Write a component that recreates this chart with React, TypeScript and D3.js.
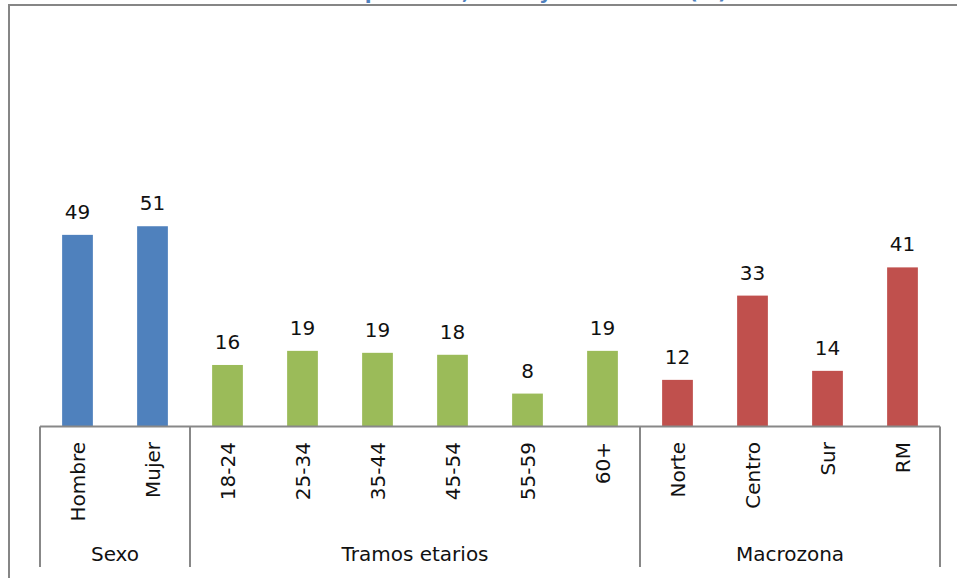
import { useEffect, useRef } from "react";
import * as d3 from "d3";

const categories = [
  "Hombre",
  "Mujer",
  "18-24",
  "25-34",
  "35-44",
  "45-54",
  "55-59",
  "60+",
  "Norte",
  "Centro",
  "Sur",
  "RM",
];
const values = [48.9, 51.1, 15.7, 19.3, 18.8, 18.3, 8.4, 19.3, 11.9, 33.4, 14.2, 40.6];
const groups = ["Sexo", "Tramos etarios", "Macrozona"];
const groupSizes = [2, 6, 4];
const groupColors = ["#4F81BD", "#9BBB59", "#C0504D"];
const title = "Distribución por sexo, edad y macrozona (%)";

const font = "'DejaVu Sans', sans-serif";

export default function App() {
  const ref = useRef<SVGSVGElement | null>(null);

  useEffect(() => {
    const width = 957;
    const height = 578;
    const margin = { left: 40, right: 17, baseline: 426.5 };

    const svg = d3.select(ref.current);
    svg.selectAll("*").remove();

    const x = d3
      .scaleBand<string>()
      .domain(categories)
      .range([margin.left, width - margin.right])
      .paddingInner(0.59)
      .paddingOuter(0.295);

    const y = d3.scaleLinear().domain([0, 100]).range([margin.baseline, 34.6]);

    // which group each category belongs to
    const groupOf: number[] = [];
    groupSizes.forEach((n, g) => {
      for (let i = 0; i < n; i++) groupOf.push(g);
    });

    // outer frame (only top and left are visible)
    svg
      .append("path")
      .attr("d", `M9,${height} L9,5 L${width},5`)
      .attr("fill", "none")
      .attr("stroke", "#868686")
      .attr("stroke-width", 2);

    // title, mostly cut off at the top like the source
    svg
      .append("text")
      .attr("x", 474)
      .attr("y", -1)
      .attr("text-anchor", "middle")
      .attr("font-family", font)
      .attr("font-weight", "bold")
      .attr("font-size", 20)
      .attr("fill", "#4F81BD")
      .text(title);

    svg
      .append("g")
      .selectAll("rect")
      .data(values)
      .join("rect")
      .attr("x", (_, i) => x(categories[i])!)
      .attr("y", (d) => y(d))
      .attr("width", x.bandwidth())
      .attr("height", (d) => y(0) - y(d))
      .attr("fill", (_, i) => groupColors[groupOf[i]]);

    svg
      .append("g")
      .selectAll("text")
      .data(values)
      .join("text")
      .attr("x", (_, i) => x(categories[i])! + x.bandwidth() / 2)
      .attr("y", (d) => y(d) - 16)
      .attr("text-anchor", "middle")
      .attr("font-family", font)
      .attr("font-size", 20)
      .attr("fill", "#111")
      .text((d) => d3.format(".0f")(d));

    // category axis
    const step = x.step();
    svg
      .append("line")
      .attr("x1", margin.left)
      .attr("x2", width - margin.right)
      .attr("y1", margin.baseline)
      .attr("y2", margin.baseline)
      .attr("stroke", "#888")
      .attr("stroke-width", 2);

    svg
      .append("g")
      .selectAll("text")
      .data(categories)
      .join("text")
      .attr(
        "transform",
        (d) => `translate(${x(d)! + x.bandwidth() / 2 + 7},442) rotate(-90)`
      )
      .attr("text-anchor", "end")
      .attr("font-family", font)
      .attr("font-size", 20)
      .attr("fill", "#111")
      .text((d) => d);

    let start = 0;
    const edges = [margin.left];
    groupSizes.forEach((n, g) => {
      const x0 = margin.left + start * step;
      const x1 = margin.left + (start + n) * step;
      edges.push(x1);
      svg
        .append("text")
        .attr("x", (x0 + x1) / 2)
        .attr("y", 561)
        .attr("text-anchor", "middle")
        .attr("font-family", font)
        .attr("font-size", 20)
        .attr("fill", "#111")
        .text(groups[g]);
      start += n;
    });

    svg
      .append("g")
      .selectAll("line")
      .data(edges)
      .join("line")
      .attr("x1", (d) => d)
      .attr("x2", (d) => d)
      .attr("y1", margin.baseline)
      .attr("y2", 567)
      .attr("stroke", "#888")
      .attr("stroke-width", 2);
  }, []);

  return (
    <svg
      ref={ref}
      width={957}
      height={578}
      style={{ position: "absolute", left: 0, top: 0, background: "#fff" }}
    />
  );
}
